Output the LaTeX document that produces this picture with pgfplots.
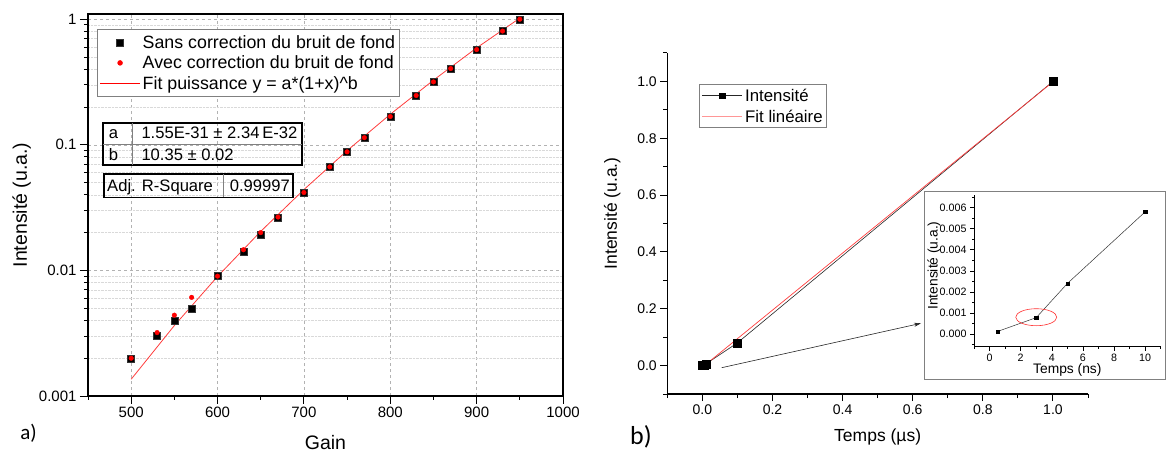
\documentclass[border=0pt]{standalone}
\usepackage{pgfplots}
\pgfplotsset{compat=1.18}
\usepackage{fontspec}
\setmainfont{Liberation Sans}
\newfontfamily\calibri{Carlito}
\usetikzlibrary{arrows.meta}
\definecolor{fitred}{RGB}{255,60,60}
\definecolor{fitpink}{RGB}{255,150,150}
\pgfplotsset{wideleg/.style={legend image code/.code={\draw[mark repeat=2,mark phase=2,##1] plot coordinates {(0pt,0pt) (20pt,0pt) (40pt,0pt)};}}}
\begin{document}
\begin{tikzpicture}[x=1pt,y=1pt]
\useasboundingbox (0,0) rectangle (1166,453);

% ---------------- Left panel ----------------
\begin{axis}[
  at={(88pt,57pt)}, anchor=south west,
  scale only axis, width=475pt, height=382pt,
  xmin=450, xmax=1000, ymode=log, ymin=0.001, ymax=1.1,
  xtick={500,600,700,800,900,1000},
  xticklabels={500,600,700,800,900,1000},
  minor xtick={450,550,650,750,850,950},
  ytick={0.001,0.01,0.1,1}, yticklabels={0.001,0.01,0.1,1},
  minor ytick={0.002,0.003,0.004,0.005,0.006,0.007,0.008,0.009,0.02,0.03,0.04,0.05,0.06,0.07,0.08,0.09,0.2,0.3,0.4,0.5,0.6,0.7,0.8,0.9},
  tick pos=left, tick align=outside,
  major tick length=8pt, minor tick length=4pt,
  tick style={black, line width=1pt},
  axis line style={line width=1.5pt},
  xmajorgrids, ymajorgrids, yminorgrids,
  major grid style={dashed, gray!60, line width=0.6pt},
  minor grid style={densely dotted, gray!30, line width=0.5pt},
  tick label style={font=\fontsize{15}{15}\selectfont},
  xlabel={Gain}, ylabel={Intensité (u.a.)},
  label style={font=\fontsize{19.5}{20}\selectfont},
  xlabel style={at={(axis description cs:0.5,-0.123)}, anchor=center},
  ylabel style={at={(axis description cs:-0.1396,0.5)}, anchor=center},
  legend cell align=left,
  legend style={at={(0.019,0.961)}, anchor=north west, draw=gray, fill=white, line width=0.8pt,
    font=\fontsize{17.8}{18}\selectfont, inner xsep=2pt, inner ysep=3pt,
    nodes={inner ysep=3pt}},
]
\addplot[only marks, mark=square*, mark size=3.5pt, mark options={fill=black, draw=black!80}, wideleg]
coordinates {(500,0.002) (530,0.003) (550,0.004) (570,0.005) (600,0.009) (630,0.0141) (650,0.0191) (670,0.0264) (700,0.0417) (730,0.0667) (750,0.0879) (770,0.114) (800,0.168) (830,0.247) (850,0.317) (870,0.405) (900,0.573) (930,0.805) (950,1.0)};
\addlegendentry{Sans correction du bruit de fond}
\addplot[only marks, mark=*, mark size=2.3pt, red, mark options={fill=red, draw=red}, wideleg]
coordinates {(500,0.002) (530,0.0032) (550,0.0044) (570,0.0061) (600,0.009) (630,0.0146) (650,0.0200) (670,0.0266) (700,0.0417) (730,0.0667) (750,0.0879) (770,0.114) (800,0.168) (830,0.247) (850,0.317) (870,0.405) (900,0.573) (930,0.805) (950,1.0)};
\addlegendentry{Avec correction du bruit de fond}
\addplot[fitred, line width=0.8pt,
  legend image code/.code={\draw[draw=red, line width=1.3pt] (0pt,0pt) -- (40pt,0pt);}]
coordinates {(500,0.00136) (550,0.00364) (600,0.00895) (650,0.02045) (700,0.0440) (750,0.0898) (800,0.175) (850,0.327) (900,0.591) (950,1.02)};
\addlegendentry{Fit puissance y = a*(1+x)\string^b}
\end{axis}

% fit parameter tables
\draw[line width=1.2pt] (103,330) rectangle (302,288);
\draw[gray, line width=0.6pt] (103,309) -- (302,309);
\draw[gray, line width=0.6pt] (132,330) -- (132,288);
\begin{scope}[every node/.style={anchor=base west, inner sep=0pt, font=\fontsize{16.6}{17}\selectfont}]
\node at (108.7,314) {a};
\node at (141.3,314) {1.55E-31 ± 2.34\,E-32};
\node at (108.7,292.5) {b};
\node at (141.3,292.5) {10.35 ± 0.02};
\node at (107,261.5) {Adj. R-Square};
\node at (229.7,261.5) {0.99997};
\end{scope}
\draw[line width=1.2pt] (104,279) rectangle (293,255.7);
\draw[gray, line width=0.6pt] (223,279) -- (223,255.7);

\node[font=\calibri\fontsize{21}{21}\selectfont] at (28.5,20) {a)};

% ---------------- Right panel ----------------
\begin{axis}[
  at={(667.3pt,59pt)}, anchor=south west,
  scale only axis, width=420.7pt, height=341pt,
  xmin=-0.1, xmax=1.1, ymin=-0.1, ymax=1.1,
  axis lines=left, axis line style={-, line width=1.2pt},
  xtick={0,0.2,0.4,0.6,0.8,1.0}, xticklabels={0.0,0.2,0.4,0.6,0.8,1.0},
  minor xtick={-0.1,0.1,0.3,0.5,0.7,0.9,1.1},
  ytick={0,0.2,0.4,0.6,0.8,1.0}, yticklabels={0.0,0.2,0.4,0.6,0.8,1.0},
  minor ytick={-0.1,0.1,0.3,0.5,0.7,0.9,1.1},
  tick align=outside, major tick length=7pt, minor tick length=4pt,
  tick style={black, line width=1pt},
  tick label style={font=\fontsize{14}{14}\selectfont},
  xlabel={Temps (µs)}, ylabel={Intensité (u.a.)},
  label style={font=\fontsize{17.5}{18}\selectfont},
  xlabel style={at={(axis description cs:0.5,-0.126)}, anchor=center},
  ylabel style={at={(axis description cs:-0.131,0.53)}, anchor=center},
  legend cell align=left,
  legend style={at={(0.076,0.908)}, anchor=north west, draw=gray, line width=0.8pt,
    font=\fontsize{16.8}{17}\selectfont, inner sep=2pt, row sep=3pt},
]
\addplot[black!85, line width=0.6pt, mark=square*, mark size=4pt, mark options={fill=black, draw=black},
  legend image code/.code={\draw[black!85, line width=0.6pt] (0pt,0pt) -- (40pt,0pt); \fill[black] (17.2pt,-2.8pt) rectangle (22.8pt,2.8pt);}]
coordinates {(0.0005,0.00012) (0.003,0.00078) (0.005,0.0024) (0.01,0.0058) (0.1,0.08) (1.0,1.0)};
\addlegendentry{Intensité}
\addplot[fitred, line width=0.7pt,
  legend image code/.code={\draw[draw=fitpink, line width=1.5pt] (0pt,0pt) -- (40pt,0pt);}]
coordinates {(0,-0.0057) (1.0,0.9986)};
\addlegendentry{Fit linéaire}
\end{axis}

\node[font=\calibri\fontsize{26}{26}\selectfont] at (641,16) {b)};

% arrow to inset
\draw[black!85, line width=0.6pt, -{Stealth[length=7pt, width=4pt]}] (721.7,85.3) -- (921,129.7);

% ---------------- Inset ----------------
\draw[gray, line width=0.9pt, fill=white] (924.3,73.7) rectangle (1165.2,261.3);
\begin{axis}[
  at={(974pt,106.3pt)}, anchor=south west,
  scale only axis, width=186.7pt, height=151.7pt,
  xmin=-1, xmax=11, ymin=-0.0006, ymax=0.0066,
  axis lines=left, axis line style={-, line width=0.8pt},
  xtick={0,2,4,6,8,10}, xticklabels={0,2,4,6,8,10},
  minor xtick={-1,1,3,5,7,9,11},
  ytick={0,0.001,0.002,0.003,0.004,0.005,0.006},
  yticklabels={0.000,0.001,0.002,0.003,0.004,0.005,0.006},
  minor ytick={-0.0005,0.0005,0.0015,0.0025,0.0035,0.0045,0.0055,0.0065},
  scaled y ticks=false, scaled x ticks=false,
  tick align=outside, major tick length=4pt, minor tick length=2pt,
  tick style={black, line width=0.6pt},
  tick label style={font=\fontsize{10.7}{11}\selectfont},
  xlabel={Temps (ns)}, ylabel={Intensité (u.a.)},
  label style={font=\fontsize{13.8}{14}\selectfont},
  xlabel style={at={(axis description cs:0.5,-0.154)}, anchor=center},
  ylabel style={at={(axis description cs:-0.214,0.535)}, anchor=center},
]
\addplot[black!80, line width=0.5pt, mark=square*, mark size=1.6pt, mark options={fill=black, draw=black}]
coordinates {(0.5,0.00012) (3,0.00078) (5,0.0024) (10,0.0058)};
\draw[red!80, line width=0.6pt] (axis cs:3,0.0008) ellipse [x radius=20.5pt, y radius=8.5pt];
\end{axis}
\end{tikzpicture}
\end{document}
